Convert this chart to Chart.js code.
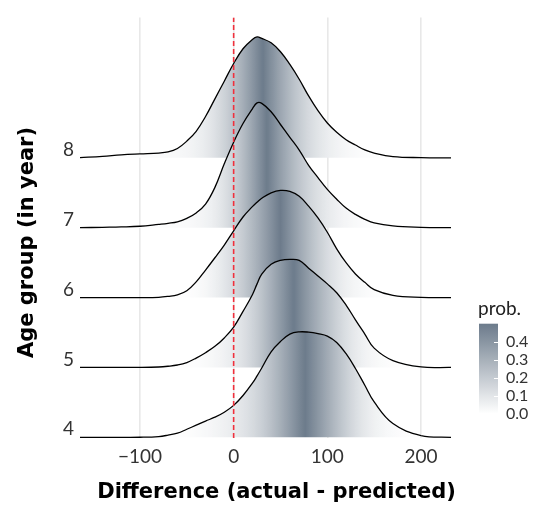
<!DOCTYPE html>
<html>
<head>
<meta charset="utf-8">
<script src="https://cdn.jsdelivr.net/npm/chart.js@4.4.0/dist/chart.umd.min.js"></script>
<style>
  html, body { margin: 0; padding: 0; background: #fff; }
</style>
</head>
<body>
<canvas id="ridges" width="537" height="505"></canvas>
<script>
// Difference (actual - predicted) where the ridge heights were read
const diffX = [-164, -140, -120, -100, -80, -70, -60, -50, -40, -30, -20, -10, 0, 10, 20, 25,
  30, 40, 50, 60, 70, 80, 90, 100, 110, 120, 130, 140, 150, 170, 200, 232];

// Ridge heights, in hundredths of the spacing between age groups
const ridge4 = [0, 0, 0, 0.1, 1.1, 3.1, 5.9, 11.5, 17.3, 23.2, 28.8, 35.9, 45.7, 59.8, 77.4, 87.9,
  99.2, 122.4, 137.1, 147.7, 150.9, 150.5, 148.4, 144.9, 135.7, 119.6, 98.5, 74.5, 50.6, 19.7, 2.5, 0];
const ridge5 = [0, 0, 0, 0, 0.6, 1.7, 3.5, 7.0, 13.4, 21.1, 30.2, 42.2, 57.7, 80.2, 104.1, 119.6,
  133.6, 147.7, 153.3, 154.7, 153.3, 142.1, 130.8, 119.6, 106.9, 89.3, 68.2, 47.8, 27.6, 9.8, 0.7, 0];
const ridge6 = [0, 0, 0, 0, 0.4, 1.7, 3.9, 9.8, 22.5, 39.4, 57.0, 75.2, 95.6, 115.3, 130.1, 136.4,
  142.1, 149.8, 153.3, 151.9, 144.9, 130.8, 113.9, 93.5, 69.8, 49.9, 33.8, 21.8, 11.3, 3.2, 0.4, 0];
const ridge7 = [0, 0.6, 1.1, 2.1, 4.8, 6.3, 8.4, 13.4, 21.1, 33.8, 57.7, 91.4, 122.4, 149.1, 170.2, 178.6,
  177.9, 166.0, 147.7, 129.4, 111.1, 89.3, 71.7, 54.9, 40.8, 28.1, 19.0, 12.0, 6.8, 2.5, 0.6, 0];
const ridge8 = [0.3, 2.1, 4.2, 5.6, 6.8, 8.4, 13.4, 23.9, 38.0, 59.1, 84.4, 109.7, 135.0, 156.1, 169.5, 173.0,
  170.9, 164.6, 151.9, 133.6, 112.5, 88.6, 67.5, 49.9, 36.6, 26.0, 18.3, 11.3, 6.8, 1.8, 0.3, 0];

const ageGroups = [4, 5, 6, 7, 8];
const ridgeHeights = [ridge4, ridge5, ridge6, ridge7, ridge8];
const heightUnit = 0.01;

const xTickValues = [-100, 0, 100, 200];
const refLineX = 0;

// colour bar (tail probability)
const probTicks = [0.0, 0.1, 0.2, 0.3, 0.4];
const probMax = 0.5;

const lowColor = [255, 255, 255];
const highColor = [108, 123, 139]; // slategray4

function probColor(t) {
  const c = lowColor.map((l, k) => Math.round(l + (highColor[k] - l) * t));
  return "rgb(" + c.join(",") + ")";
}

/**
 * Horizontal gradient coloured by tail probability 0.5 - |0.5 - ecdf|
 */
function ridgeGradient(chart, dens) {
  const area = chart.chartArea;
  const xs = chart.scales.x;
  if (!area || !xs) return "rgba(0,0,0,0)";

  const steps = 6;
  const pts = [{ x: diffX[0], c: 0 }];
  let cum = 0;
  for (let i = 0; i < diffX.length - 1; i++) {
    for (let k = 1; k <= steps; k++) {
      const xa = diffX[i] + (diffX[i + 1] - diffX[i]) * (k - 1) / steps;
      const xb = diffX[i] + (diffX[i + 1] - diffX[i]) * k / steps;
      const da = dens[i] + (dens[i + 1] - dens[i]) * (k - 1) / steps;
      const db = dens[i] + (dens[i + 1] - dens[i]) * k / steps;
      cum += (da + db) / 2 * (xb - xa);
      pts.push({ x: xb, c: cum });
    }
  }

  const x0 = xs.getPixelForValue(diffX[0]);
  const x1 = xs.getPixelForValue(diffX[diffX.length - 1]);
  const g = chart.ctx.createLinearGradient(x0, 0, x1, 0);
  const span = diffX[diffX.length - 1] - diffX[0];
  pts.forEach((p) => {
    const ecdf = p.c / cum;
    const prob = 0.5 - Math.abs(0.5 - ecdf);
    g.addColorStop((p.x - diffX[0]) / span, probColor(prob / probMax));
  });
  return g;
}

const datasets = ageGroups.map((grp, i) => ({
  label: String(grp),
  data: diffX.map((x, j) => ({ x: x, y: grp + ridgeHeights[i][j] * heightUnit })),
  borderColor: "#000000",
  borderWidth: 1.3,
  pointRadius: 0,
  tension: 0.4,
  fill: { value: grp },
  backgroundColor: (ctx) => ridgeGradient(ctx.chart, ridgeHeights[i]),
  order: i + 1,
}));

datasets.push({
  label: "zero",
  data: [{ x: refLineX, y: 3.99 }, { x: refLineX, y: 10.01 }],
  borderColor: "#f0303c",
  borderWidth: 1.6,
  borderDash: [5, 3],
  pointRadius: 0,
  fill: false,
  order: 0,
});

// titles and colour bar legend
const decorPlugin = {
  id: "decor",
  afterDraw(chart) {
    const ctx = chart.ctx;
    ctx.save();
    ctx.fillStyle = "#000";
    ctx.font = "bold 21px 'DejaVu Sans'";
    ctx.textAlign = "center";
    ctx.textBaseline = "alphabetic";
    ctx.fillText("Difference (actual - predicted)", 276.5, 498);

    ctx.translate(33, 242.5);
    ctx.rotate(-Math.PI / 2);
    ctx.fillText("Age group (in year)", 0, 0);
    ctx.restore();

    // colour bar
    const barLeft = 479, barRight = 498, barTop = 323.7, barBottom = 413.7;
    const yFor = (v) => barBottom - (v / probMax) * (barBottom - barTop);
    ctx.save();
    const g = ctx.createLinearGradient(0, barBottom, 0, barTop);
    for (let k = 0; k <= 10; k++) g.addColorStop(k / 10, probColor(k / 10));
    ctx.fillStyle = g;
    ctx.fillRect(barLeft, barTop, barRight - barLeft, barBottom - barTop);

    ctx.strokeStyle = "#ffffff";
    ctx.lineWidth = 1;
    probTicks.forEach((v) => {
      const y = Math.round(yFor(v)) + 0.5;
      ctx.beginPath();
      ctx.moveTo(barRight - 4, y);
      ctx.lineTo(barRight, y);
      ctx.stroke();
    });

    ctx.fillStyle = "#333333";
    ctx.font = "16px Lato";
    ctx.textAlign = "left";
    ctx.textBaseline = "middle";
    probTicks.forEach((v) => ctx.fillText(v.toFixed(1), 506, yFor(v)));

    ctx.fillStyle = "#222222";
    ctx.font = "19px Lato";
    ctx.textBaseline = "alphabetic";
    ctx.fillText("prob.", 478, 315);
    ctx.restore();
  },
};

new Chart(document.getElementById("ridges"), {
  type: "line",
  data: { datasets: datasets },
  options: {
    responsive: false,
    animation: false,
    devicePixelRatio: 1,
    layout: { padding: { top: 10, right: 86, left: 0, bottom: 0 } },
    plugins: { legend: { display: false }, tooltip: { enabled: false } },
    scales: {
      x: {
        type: "linear",
        min: -164,
        max: 232,
        afterBuildTicks: (scale) => {
          scale.ticks = xTickValues.map((v) => ({ value: v }));
        },
        afterFit: (scale) => {
          scale.height = 67;
        },
        ticks: {
          color: "#333333",
          font: { family: "Lato", size: 19 },
          padding: 7,
          maxRotation: 0,
          callback: (v) => String(v).replace("-", "\u2212"),
        },
        grid: { color: "#e8e8e8", lineWidth: 1.6, drawTicks: false },
        border: { display: false },
      },
      y: {
        type: "linear",
        min: 3.99,
        max: 10.01,
        afterBuildTicks: (scale) => {
          scale.ticks = ageGroups.map((v) => ({ value: v }));
        },
        afterFit: (scale) => {
          scale.width = 80;
        },
        ticks: {
          color: "#333333",
          font: { family: "Lato", size: 19 },
          padding: 6,
          labelOffset: -8,
        },
        grid: { display: false, drawTicks: false },
        border: { display: false },
      },
    },
  },
  plugins: [decorPlugin],
});
</script>
</body>
</html>
